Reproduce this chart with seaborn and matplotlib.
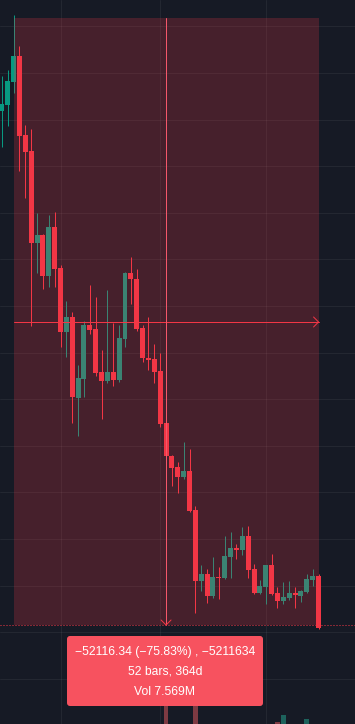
import numpy as np
import pandas as pd
import matplotlib
matplotlib.use("Agg")
import matplotlib.pyplot as plt
from matplotlib.patches import Rectangle, FancyBboxPatch
from matplotlib.transforms import IdentityTransform
import seaborn as sns

# weekly candles, index 0 = first visible week
bar_idx = list(range(55))
opens = [60770, 61260, 63260, 65470, 58680, 57310, 49440, 50100, 46600, 50780,
         47260, 41790, 43060, 36130, 37760, 42370, 42030, 38330, 37590, 38330,
         37650, 41170, 46830, 46320, 42110, 39540, 39450, 38420, 33950, 31120,
         30180, 29320, 29830, 26480, 20390, 20990, 19100, 20730, 20650, 22450,
         23220, 23050, 24250, 21420, 19360, 19870, 21760, 19360, 18670, 18930,
         19360, 19100, 19440, 20470, 20820]
highs = [63750, 64260, 68990, 66320, 59540, 59200, 51990, 50180, 51810, 52070,
         47520, 44430, 43490, 38930, 42710, 45800, 44770, 40220, 45370, 42570,
         42370, 46920, 48210, 47180, 42370, 43060, 40740, 39960, 34240, 31210,
         30610, 32320, 31720, 26830, 21760, 21420, 22450, 21590, 24250, 24600,
         23570, 25030, 25110, 21850, 20470, 21800, 22710, 19870, 20300, 20390,
         19870, 19620, 20990, 21420, 20990]
lows = [57680, 59460, 62310, 55590, 53300, 42280, 46830, 45490, 45630, 45660,
        40510, 39650, 33980, 32860, 36210, 41600, 38020, 34320, 37410, 37160,
        37470, 40480, 44170, 41850, 39190, 38510, 37390, 33610, 25400, 28550,
        27940, 29150, 26350, 17600, 19530, 18500, 18930, 18840, 20600, 20650,
        22280, 22620, 20650, 19310, 19270, 18410, 19190, 18070, 18410, 18760,
        18070, 18590, 19400, 19960, 16250]
closes = [61340, 63320, 65470, 58600, 57250, 49440, 50100, 46600, 50780, 47200,
          41790, 43060, 36210, 37820, 42370, 41940, 38270, 37590, 38330, 37650,
          41250, 46830, 46320, 42030, 39540, 39360, 38330, 33870, 31120, 30090,
          29320, 29830, 26400, 20390, 20990, 19100, 20730, 20650, 22540, 23220,
          23050, 24250, 21330, 19360, 19960, 21760, 19270, 18670, 19020, 19360,
          19190, 19530, 20560, 20820, 16330]
# volume overlay (thousands), only the tallest bars reach into the crop
volume = [180, 170, 210, 230, 190, 260, 170, 150, 160, 140,
          190, 180, 250, 220, 170, 150, 160, 180, 200, 160,
          170, 180, 150, 160, 170, 150, 190, 230, 345, 210,
          180, 170, 200, 335, 220, 190, 200, 160, 210, 170,
          140, 190, 220, 200, 170, 240, 230, 302, 309, 280,
          260, 270, 305, 250, 290]

measure_start, measure_end = 2, 54
measure_from, measure_to = 68728.0, 16611.66
tooltip_lines = ["\u221252116.34 (\u221275.83%) , \u22125211634",
                 "52 bars, 364d",
                 "Vol 7.569M"]
price_grid = list(range(12000, 72000, 4000))
time_grid = [10, 27, 45]

BG = "#161a25"
UP, DOWN = "#089981", "#f23645"
VOL_UP, VOL_DOWN = "#1d625c", "#7e3a42"
TIP = "#f7525f"

sns.set_theme(style="dark", rc={"axes.facecolor": BG, "figure.facecolor": BG})
plt.rcParams["font.family"] = ["Liberation Sans", "DejaVu Sans"]

fig = plt.figure(figsize=(3.55, 7.24), dpi=100)
ax = fig.add_axes([0, 0, 1, 1])
ax.set_facecolor(BG)

o, h, l, c = (np.array(a, dtype=float) for a in (opens, highs, lows, closes))
x = np.array(bar_idx)
up = c >= o
px = 0.72  # one pixel in points
half_px = 43  # half a pixel in price units, keeps 1px lines on a pixel row

# grid
for p in price_grid:
    ax.axhline(p, color="white", alpha=0.06, lw=px, zorder=1, snap=True)
for t in time_grid:
    ax.axvline(t, color="white", alpha=0.06, lw=px, zorder=1, snap=True)

# candles
cols = np.where(up, UP, DOWN)
ax.vlines(x, l, h, colors=cols, lw=px, zorder=2)
body_lo = np.minimum(o, c)
body_h = np.maximum(np.abs(c - o), 90)
ax.bar(x, body_h, bottom=body_lo, width=0.85, color=cols, linewidth=0, zorder=2)

# volume overlay
axv = ax.twinx()
vol_df = pd.DataFrame({"bar": bar_idx, "volume": volume,
                       "dir": np.where(up, "up", "down")})
sns.barplot(data=vol_df, x="bar", y="volume", hue="dir",
            palette={"up": VOL_UP, "down": VOL_DOWN}, native_scale=True,
            dodge=False, legend=False, width=0.8, saturation=1,
            errorbar=None, linewidth=0, ax=axv)
axv.set_ylim(300, 1024)
axv.axis("off")

# measure tool
ax.add_patch(Rectangle((measure_start, measure_to), measure_end - measure_start,
                       measure_from - measure_to, facecolor=DOWN, alpha=0.22,
                       linewidth=0, zorder=3))
mid_y = (measure_from + measure_to) / 2 - half_px
mid_x = (measure_start + measure_end) / 2
ax.plot([measure_start, measure_end], [mid_y, mid_y], color=DOWN, lw=px,
        zorder=4, snap=True)
ax.plot([measure_end - 0.85, measure_end, measure_end - 0.85],
        [mid_y + 429, mid_y, mid_y - 429], color=DOWN, lw=px, zorder=4)
ax.plot([mid_x, mid_x], [measure_from, measure_to], color="#f5576a", lw=px,
        zorder=4, snap=True)
ax.plot([mid_x - 0.85, mid_x, mid_x + 0.85],
        [measure_to + 429, measure_to, measure_to + 429], color=DOWN, lw=px, zorder=4)
ax.axhline(measure_to - half_px, color=DOWN, lw=px, ls=(0, (1, 2)), zorder=4)

ax.set_xlim(-0.317, 60.22)
ax.set_ylim(8110, 70273)
axv.set_xlim(-0.317, 60.22)
ax.set_xticks([])
ax.set_yticks([])
for s in ax.spines.values():
    s.set_visible(False)

# tooltip (pixel coordinates)
fig.add_artist(FancyBboxPatch((67, 18), 196, 70,
                              boxstyle="round,pad=0,rounding_size=3",
                              fc=TIP, ec="none", transform=IdentityTransform()))
for line, yb in zip(tooltip_lines, [68.7, 49, 29]):
    fig.text(165, yb, line, transform=IdentityTransform(), ha="center",
             va="baseline", color="white", fontsize=8.7)

fig.savefig("out.png", dpi=100, facecolor=BG)
